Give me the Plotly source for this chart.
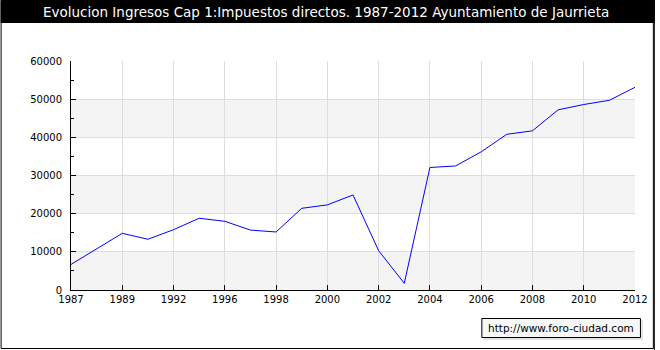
import plotly.graph_objects as go

years = ["1987", "1988", "1989", "1991", "1992", "1994", "1996", "1997", "1998", "1999",
         "2000", "2001", "2002", "2003", "2004", "2005", "2006", "2007", "2008", "2009",
         "2010", "2011", "2012"]
values = [6700, 10800, 14850, 13300, 15800, 18800, 18000, 15700, 15200, 21400,
          22300, 24900, 10300, 1750, 32100, 32500, 36200, 40800, 41700, 47200,
          48600, 49700, 53100]
tick_labels = ["1987", "1989", "1992", "1996", "1998", "2000", "2002", "2004",
               "2006", "2008", "2010", "2012"]
title_text = "Evolucion Ingresos Cap 1:Impuestos directos. 1987-2012 Ayuntamiento de Jaurrieta"
footer_text = "http://www.foro-ciudad.com"

W, H = 660, 350
L, R, T, B = 71, 20, 61, 60
PW, PH = W - L - R, H - T - B


def px(x):
    return (x - L) / PW


def py(y):
    return (H - B - y) / PH


FONT = "DejaVu Sans"

fig = go.Figure()
fig.add_trace(go.Scatter(x=years, y=values, mode="lines",
                         line=dict(color="#0000ff", width=1), hoverinfo="skip"))

shapes = []
# alternating bands
for lo in range(0, 60000, 20000):
    shapes.append(dict(type="rect", xref="x domain", yref="y", x0=0, x1=1, y0=lo, y1=lo + 10000,
                       fillcolor="#f4f4f4", line=dict(width=0), layer="below"))
# title bar
shapes.append(dict(type="rect", xref="paper", yref="paper", x0=px(0), x1=px(W), y0=py(23), y1=py(0),
                   fillcolor="#000000", line=dict(width=0), layer="above"))
# frame
shapes.append(dict(type="rect", xref="paper", yref="paper", x0=px(0.5), x1=px(658.5), y0=py(348.5), y1=py(0.5),
                   fillcolor="rgba(0,0,0,0)", line=dict(color="#000000", width=1), layer="above"))
shapes.append(dict(type="line", xref="paper", yref="paper", x0=px(659.5), x1=px(659.5), y0=py(350), y1=py(0),
                   line=dict(color="#000000", width=1), layer="above"))
# footer box shadow and box
shapes.append(dict(type="rect", xref="paper", yref="paper", x0=px(487), x1=px(648), y0=py(340), y1=py(320),
                   fillcolor="#e4e4e4", line=dict(width=0), layer="above"))
shapes.append(dict(type="rect", xref="paper", yref="paper", x0=px(485.5), x1=px(645.5), y0=py(337.5), y1=py(318.5),
                   fillcolor="#f8f8f8", line=dict(color="#000000", width=1), layer="above"))

annotations = [
    dict(text=title_text, xref="paper", yref="paper", x=px(328), y=py(12), showarrow=False,
         xanchor="center", yanchor="middle", font=dict(family=FONT, size=13.5, color="#ffffff")),
    dict(text=footer_text, xref="paper", yref="paper", x=px(565), y=py(328), showarrow=False,
         xanchor="center", yanchor="middle", font=dict(family=FONT, size=10.5, color="#000000")),
]

fig.update_layout(
    width=W, height=H, autosize=False,
    margin=dict(l=L, r=R, t=T, b=B, pad=0),
    paper_bgcolor="#ffffff", plot_bgcolor="#ffffff",
    showlegend=False,
    shapes=shapes, annotations=annotations,
    font=dict(family=FONT, size=10, color="#000000"),
)
fig.update_xaxes(type="category", range=[0, 22], tickmode="array", tickvals=tick_labels, ticktext=tick_labels,
                 showgrid=True, gridcolor="#dddddd", gridwidth=1,
                 showline=True, linecolor="#000000", linewidth=1,
                 ticks="inside", ticklen=5, tickcolor="#000000",
                 zeroline=False, fixedrange=True,
                 tickfont=dict(family=FONT, size=10, color="#000000"))
fig.update_yaxes(range=[0, 60000], dtick=10000, tick0=0, tickformat="d",
                 showgrid=True, gridcolor="#dddddd", gridwidth=1,
                 showline=True, linecolor="#000000", linewidth=1,
                 ticks="inside", ticklen=5, tickcolor="#000000",
                 minor=dict(dtick=5000, ticks="inside", ticklen=3, tickcolor="#000000", showgrid=False),
                 zeroline=False, fixedrange=True, ticklabelstandoff=6,
                 tickfont=dict(family=FONT, size=10, color="#000000"))

fig.write_html("out.html", config=dict(displayModeBar=False))
